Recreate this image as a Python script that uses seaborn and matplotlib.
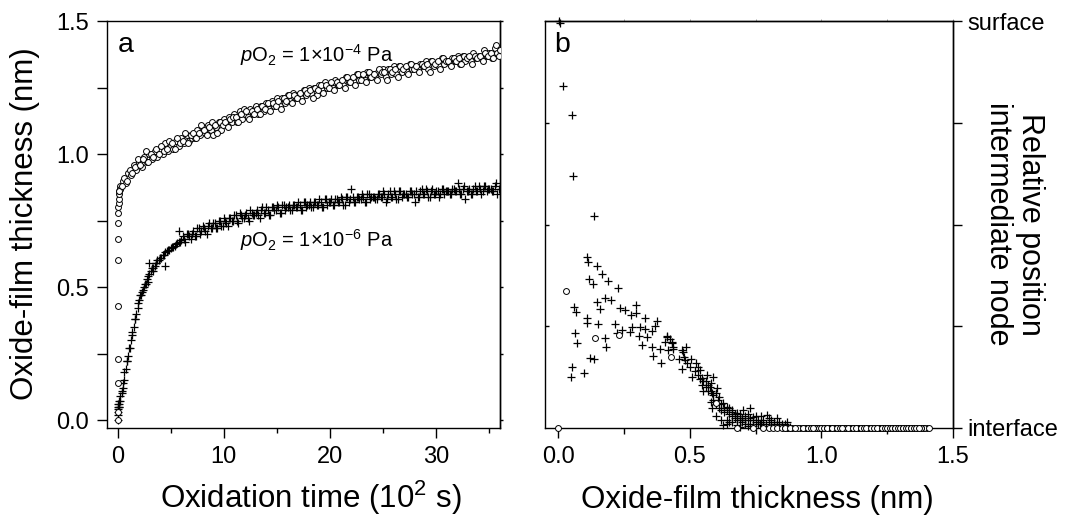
import numpy as np
import pandas as pd
import matplotlib
matplotlib.use("Agg")
import matplotlib.pyplot as plt
import seaborn as sns
from matplotlib.ticker import FixedLocator, MultipleLocator, NullFormatter

# ---------------- data ----------------
# panel a : oxidation time (1e2 s) vs oxide-film thickness (nm)
time_grid = np.arange(1, 145) * 0.25          # sampling times 0.25 ... 36
time_grid2 = time_grid - 0.125                 # interleaved samples 0.125 ... 35.875

circle_t_early = [0.0, 0.0, 0.01, 0.02, 0.03, 0.04, 0.05, 0.06, 0.07, 0.08,
                  0.09, 0.10, 0.12, 0.15, 0.18, 0.20]
circle_y_early = [0.00, 0.03, 0.14, 0.23, 0.43, 0.60, 0.68, 0.74, 0.78, 0.80,
                  0.815, 0.83, 0.85, 0.86, 0.87, 0.88]
circle_y = [
    0.87, 0.90, 0.89, 0.93, 0.92, 0.96, 0.94, 0.97, 0.95, 0.99, 0.97, 1.00,
    0.98, 1.01, 0.99, 1.02, 1.00, 1.04, 1.01, 1.03, 1.02, 1.05, 1.03, 1.06,
    1.04, 1.07, 1.05, 1.06, 1.06, 1.09, 1.07, 1.10, 1.08, 1.11, 1.09, 1.07,
    1.10, 1.12, 1.09, 1.13, 1.11, 1.14, 1.12, 1.15, 1.12, 1.16, 1.13, 1.15,
    1.14, 1.17, 1.15, 1.18, 1.15, 1.18, 1.16, 1.19, 1.17, 1.20, 1.18, 1.21,
    1.18, 1.21, 1.19, 1.22, 1.20, 1.23, 1.21, 1.22, 1.21, 1.24, 1.22, 1.25,
    1.23, 1.25, 1.22, 1.26, 1.24, 1.27, 1.25, 1.26, 1.25, 1.28, 1.26, 1.27,
    1.26, 1.29, 1.27, 1.28, 1.27, 1.30, 1.28, 1.29, 1.28, 1.31, 1.29, 1.30,
    1.29, 1.31, 1.30, 1.32, 1.29, 1.32, 1.30, 1.33, 1.30, 1.33, 1.31, 1.32,
    1.31, 1.34, 1.32, 1.33, 1.32, 1.34, 1.33, 1.35, 1.32, 1.35, 1.33, 1.34,
    1.33, 1.36, 1.34, 1.35, 1.34, 1.36, 1.35, 1.37, 1.34, 1.37, 1.35, 1.36,
    1.35, 1.38, 1.36, 1.37, 1.36, 1.39, 1.37, 1.38, 1.36, 1.40, 1.38, 1.39]
circle_y2 = [
    0.86, 0.88, 0.91, 0.90, 0.94, 0.93, 0.95, 0.98, 0.96, 0.98, 1.01, 0.97,
    1.00, 0.99, 1.02, 1.00, 1.03, 1.01, 1.02, 1.05, 1.04, 1.02, 1.06, 1.04,
    1.05, 1.08, 1.04, 1.07, 1.08, 1.06, 1.08, 1.11, 1.09, 1.07, 1.10, 1.12,
    1.11, 1.08, 1.12, 1.11, 1.12, 1.10, 1.13, 1.14, 1.14, 1.12, 1.15, 1.17,
    1.16, 1.13, 1.16, 1.15, 1.17, 1.15, 1.18, 1.17, 1.19, 1.16, 1.19, 1.18,
    1.20, 1.17, 1.21, 1.20, 1.22, 1.19, 1.22, 1.21, 1.23, 1.20, 1.24, 1.23,
    1.24, 1.21, 1.25, 1.24, 1.26, 1.23, 1.26, 1.25, 1.27, 1.24, 1.27, 1.26,
    1.28, 1.25, 1.29, 1.27, 1.29, 1.26, 1.30, 1.28, 1.30, 1.27, 1.31, 1.29,
    1.30, 1.28, 1.32, 1.31, 1.31, 1.28, 1.32, 1.31, 1.32, 1.29, 1.33, 1.32,
    1.33, 1.30, 1.34, 1.32, 1.33, 1.31, 1.34, 1.33, 1.34, 1.31, 1.35, 1.34,
    1.35, 1.32, 1.36, 1.35, 1.35, 1.33, 1.36, 1.35, 1.36, 1.34, 1.37, 1.36,
    1.37, 1.34, 1.37, 1.36, 1.37, 1.35, 1.38, 1.37, 1.38, 1.36, 1.41, 1.37]

plus_t_early = [0.0, 0.0, 0.02, 0.04, 0.06, 0.08, 0.10, 0.12, 0.15, 0.20,
                0.40, 0.55, 0.60, 0.90, 1.10, 1.40, 1.60, 1.90, 2.60, 3.00,
                3.60, 4.50, 5.80, 2.20, 2.90, 3.30]
plus_y_early = [0.00, 0.02, 0.04, 0.03, 0.05, 0.06, 0.05, 0.07, 0.06, 0.09,
                0.11, 0.14, 0.18, 0.22, 0.27, 0.33, 0.38, 0.44, 0.51, 0.59,
                0.59, 0.58, 0.71, 0.47, 0.52, 0.56]
plus_y = [
    0.07, 0.12, 0.19, 0.24, 0.30, 0.35, 0.40, 0.45, 0.48, 0.50, 0.53, 0.55,
    0.57, 0.58, 0.60, 0.61, 0.62, 0.63, 0.64, 0.645, 0.65, 0.66, 0.67, 0.675,
    0.68, 0.70, 0.69, 0.70, 0.69, 0.72, 0.70, 0.73, 0.71, 0.73, 0.72, 0.74,
    0.72, 0.75, 0.73, 0.76, 0.74, 0.76, 0.75, 0.77, 0.75, 0.78, 0.76, 0.77,
    0.76, 0.79, 0.77, 0.78, 0.77, 0.79, 0.78, 0.80, 0.77, 0.80, 0.79, 0.81,
    0.78, 0.81, 0.79, 0.80, 0.79, 0.81, 0.80, 0.82, 0.79, 0.82, 0.80, 0.81,
    0.80, 0.82, 0.81, 0.83, 0.80, 0.83, 0.81, 0.82, 0.81, 0.83, 0.82, 0.84,
    0.81, 0.84, 0.82, 0.87, 0.82, 0.84, 0.83, 0.85, 0.82, 0.85, 0.83, 0.84,
    0.83, 0.85, 0.84, 0.86, 0.82, 0.85, 0.84, 0.86, 0.83, 0.86, 0.84, 0.85,
    0.84, 0.86, 0.85, 0.82, 0.84, 0.86, 0.85, 0.87, 0.84, 0.86, 0.85, 0.86,
    0.84, 0.87, 0.85, 0.86, 0.85, 0.87, 0.86, 0.89, 0.85, 0.87, 0.83, 0.86,
    0.85, 0.87, 0.86, 0.88, 0.85, 0.88, 0.86, 0.87, 0.86, 0.88, 0.85, 0.87]
plus_y2 = [
    0.05, 0.10, 0.15, 0.22, 0.27, 0.32, 0.38, 0.42, 0.47, 0.49, 0.51, 0.54,
    0.56, 0.57, 0.59, 0.60, 0.61, 0.62, 0.635, 0.64, 0.65, 0.655, 0.665, 0.67,
    0.69, 0.67, 0.70, 0.68, 0.71, 0.69, 0.72, 0.71, 0.72, 0.70, 0.74, 0.72,
    0.74, 0.72, 0.75, 0.73, 0.75, 0.73, 0.76, 0.75, 0.77, 0.74, 0.77, 0.76,
    0.78, 0.75, 0.78, 0.77, 0.79, 0.76, 0.80, 0.78, 0.79, 0.77, 0.80, 0.79,
    0.80, 0.78, 0.81, 0.80, 0.81, 0.79, 0.81, 0.80, 0.81, 0.79, 0.82, 0.81,
    0.82, 0.80, 0.82, 0.81, 0.82, 0.80, 0.83, 0.82, 0.83, 0.81, 0.83, 0.82,
    0.83, 0.81, 0.84, 0.83, 0.84, 0.82, 0.84, 0.83, 0.84, 0.82, 0.85, 0.84,
    0.84, 0.83, 0.85, 0.84, 0.85, 0.83, 0.86, 0.84, 0.85, 0.83, 0.86, 0.85,
    0.85, 0.84, 0.86, 0.85, 0.86, 0.84, 0.87, 0.85, 0.86, 0.84, 0.87, 0.85,
    0.86, 0.85, 0.87, 0.86, 0.86, 0.85, 0.87, 0.86, 0.87, 0.85, 0.88, 0.86,
    0.87, 0.85, 0.88, 0.86, 0.87, 0.86, 0.88, 0.87, 0.87, 0.86, 0.89, 0.87]

# panel b : oxide-film thickness (nm) vs relative position of intermediate node
circle_pos_early = [0.0, 0.337, 0.222, 0.228, 0.174, 0.062, 0.0, 0.0, 0.0, 0.0,
                    0.0, 0.0, 0.0, 0.0, 0.0, 0.0]
circle_pos = [0.0] * (len(circle_y) + len(circle_y2))   # later points sit at the interface

node_thick_plus = [
    0.005, 0.008, 0.019, 0.053, 0.056, 0.135, 0.108, 0.114, 0.146, 0.165,
    0.118, 0.132, 0.190, 0.228, 0.061, 0.066, 0.146, 0.177, 0.200, 0.158,
    0.111, 0.108, 0.152, 0.063, 0.072, 0.181, 0.177, 0.215, 0.222, 0.235,
    0.254, 0.297, 0.297, 0.276, 0.241, 0.273, 0.281, 0.311, 0.329, 0.374,
    0.367, 0.329, 0.308, 0.336, 0.355, 0.317, 0.355, 0.386, 0.360, 0.390,
    0.412, 0.424, 0.433, 0.405, 0.437, 0.418, 0.469, 0.479, 0.120, 0.136,
    0.053, 0.048, 0.099, 0.415, 0.431, 0.437, 0.475, 0.487, 0.482, 0.506,
    0.501, 0.525, 0.539, 0.545, 0.564, 0.589, 0.545, 0.576, 0.602, 0.583,
    0.583, 0.608, 0.627, 0.640, 0.659, 0.678, 0.703, 0.729, 0.697, 0.741,
    0.792, 0.830, 0.868, 0.640, 0.627, 0.767, 0.690, 0.520, 0.530, 0.550,
    0.560, 0.570, 0.590, 0.600, 0.610, 0.620, 0.630, 0.650, 0.660, 0.670,
    0.680, 0.700, 0.710, 0.720, 0.730, 0.750, 0.760, 0.770, 0.780, 0.800,
    0.810, 0.820, 0.840, 0.850, 0.860, 0.580, 0.600, 0.640, 0.660, 0.690,
    0.710, 0.740, 0.550, 0.510, 0.490, 0.460, 0.470,
    0.530, 0.540, 0.560, 0.570, 0.580, 0.590, 0.610, 0.620, 0.630, 0.640,
    0.650, 0.660, 0.670, 0.680, 0.690, 0.700, 0.710, 0.720, 0.730, 0.740,
    0.750, 0.760, 0.770, 0.780, 0.790, 0.800, 0.810, 0.820, 0.830, 0.840,
    0.850, 0.860, 0.870, 0.880, 0.620, 0.650, 0.680, 0.720, 0.580, 0.600]
node_pos_plus = [
    1.000, 0.995, 0.840, 0.770, 0.620, 0.520, 0.420, 0.409, 0.399, 0.378,
    0.366, 0.355, 0.360, 0.343, 0.298, 0.284, 0.310, 0.319, 0.315, 0.292,
    0.270, 0.259, 0.256, 0.234, 0.208, 0.200, 0.220, 0.256, 0.233, 0.294,
    0.290, 0.302, 0.282, 0.278, 0.241, 0.237, 0.247, 0.247, 0.270, 0.264,
    0.251, 0.243, 0.226, 0.223, 0.239, 0.204, 0.200, 0.193, 0.177, 0.160,
    0.223, 0.218, 0.208, 0.212, 0.193, 0.192, 0.192, 0.175, 0.171, 0.169,
    0.149, 0.126, 0.136, 0.226, 0.212, 0.200, 0.187, 0.200, 0.167, 0.170,
    0.151, 0.159, 0.143, 0.122, 0.130, 0.125, 0.106, 0.101, 0.098, 0.085,
    0.048, 0.069, 0.061, 0.052, 0.044, 0.036, 0.044, 0.048, 0.024, 0.028,
    0.032, 0.024, 0.015, 0.020, 0.007, 0.011, 0.003, 0.140, 0.130, 0.115,
    0.100, 0.090, 0.080, 0.060, 0.050, 0.045, 0.040, 0.035, 0.030, 0.025,
    0.020, 0.015, 0.030, 0.020, 0.010, 0.015, 0.020, 0.030, 0.010, 0.015,
    0.005, 0.010, 0.005, 0.010, 0.003, 0.065, 0.030, 0.010, 0.015, 0.035,
    0.010, 0.005, 0.090, 0.125, 0.160, 0.170, 0.145,
    0.150, 0.120, 0.115, 0.105, 0.090, 0.070, 0.075, 0.060, 0.050, 0.045,
    0.050, 0.040, 0.035, 0.030, 0.020, 0.025, 0.020, 0.035, 0.025, 0.020,
    0.030, 0.010, 0.015, 0.020, 0.010, 0.025, 0.020, 0.015, 0.010, 0.015,
    0.005, 0.010, 0.005, 0.003, 0.020, 0.015, 0.008, 0.005, 0.110, 0.085]

time_ticks = [0, 10, 20, 30]
time_minor = [5, 15, 25, 35]
thick_ticks = [0.0, 0.5, 1.0, 1.5]
node_labels = ["interface", "surface"]

# ---------------- style ----------------
sns.set_style("ticks")
plt.rcParams["font.family"] = ["Liberation Sans", "DejaVu Sans"]
plt.rcParams["mathtext.fontset"] = "custom"
plt.rcParams["mathtext.rm"] = "Liberation Sans"
plt.rcParams["mathtext.it"] = "Liberation Sans:italic"
plt.rcParams["mathtext.bf"] = "Liberation Sans:bold"
plt.rcParams["axes.linewidth"] = 1.0
plt.rcParams["axes.edgecolor"] = "black"
for key in ["text.color", "axes.labelcolor", "xtick.color", "ytick.color",
            "xtick.labelcolor", "ytick.labelcolor"]:
    plt.rcParams[key] = "black"

W, H = 1074, 517
fig = plt.figure(figsize=(W / 100, H / 100), dpi=100)
ax1 = fig.add_axes([107 / W, 1 - 428 / H, 393 / W, 407 / H])
ax2 = fig.add_axes([545 / W, 1 - 428 / H, 408 / W, 407 / H])

df_c = pd.DataFrame({"t": list(circle_t_early) + list(time_grid) + list(time_grid2),
                     "d": circle_y_early + circle_y + circle_y2})
df_p = pd.DataFrame({"t": list(plus_t_early) + list(time_grid) + list(time_grid2),
                     "d": plus_y_early + plus_y + plus_y2})

# ---------------- panel a ----------------
sns.scatterplot(data=df_p, x="t", y="d", marker="+", s=36, color="black",
                linewidth=0.9, ax=ax1, legend=False, zorder=3)
sns.scatterplot(data=df_c, x="t", y="d", marker="o", s=18, color="white",
                edgecolor="black", linewidth=0.7, ax=ax1, legend=False, zorder=4)

ax1.set_xlim(-1, 36)
ax1.set_ylim(-0.03, 1.5)
ax1.xaxis.set_major_locator(FixedLocator(time_ticks))
ax1.xaxis.set_minor_locator(FixedLocator(time_minor))
ax1.yaxis.set_major_locator(MultipleLocator(0.5))
ax1.yaxis.set_minor_locator(MultipleLocator(0.25))
ax1.tick_params(axis="x", which="major", direction="out", length=7, width=1,
                labelsize=17, pad=6, top=False)
ax1.tick_params(axis="x", which="minor", direction="out", length=3.6, width=1,
                top=False)
ax1.tick_params(axis="y", which="both", direction="out", length=7, width=1,
                labelsize=17, pad=6, right=False)
ax1.set_xlabel("")
ax1.set_ylabel("")
r1 = ax1.secondary_yaxis("right")
r1.yaxis.set_major_locator(MultipleLocator(0.25))
r1.yaxis.set_major_formatter(NullFormatter())
r1.tick_params(direction="out", length=2, width=1)

ax1.text(0.028, 0.924, "a", transform=ax1.transAxes, fontsize=20.5,
         va="baseline", ha="left")
ax1.text(11.5, 1.347, r"$p$O$_2$ = 1×10$^{-4}$ Pa", fontsize=14.5,
         va="baseline", ha="left")
ax1.text(11.5, 0.652, r"$p$O$_2$ = 1×10$^{-6}$ Pa", fontsize=14.5,
         va="baseline", ha="left")

# ---------------- panel b ----------------
df_bp = pd.DataFrame({"d": node_thick_plus, "r": node_pos_plus})
df_bc = pd.DataFrame({"d": circle_y_early + circle_y + circle_y2,
                      "r": circle_pos_early + circle_pos})
sns.scatterplot(data=df_bp, x="d", y="r", marker="+", s=36, color="black",
                linewidth=0.9, ax=ax2, legend=False, zorder=3, clip_on=False)
sns.scatterplot(data=df_bc, x="d", y="r", marker="o", s=18, color="white",
                edgecolor="black", linewidth=0.7, ax=ax2, legend=False,
                zorder=4, clip_on=False)

ax2.set_xlim(-0.05, 1.5)
ax2.set_ylim(0, 1)
ax2.xaxis.set_major_locator(FixedLocator(thick_ticks))
ax2.xaxis.set_minor_locator(MultipleLocator(0.25))
ax2.tick_params(axis="x", which="major", direction="out", length=7, width=1,
                labelsize=17, pad=6, top=False)
ax2.tick_params(axis="x", which="minor", direction="out", length=4, width=1,
                top=False)
ax2.set_yticks([0.25, 0.5, 0.75])
ax2.yaxis.set_major_formatter(NullFormatter())
ax2.tick_params(axis="y", which="both", direction="in", length=3, width=1,
                right=False)
ax2.set_xlabel("")
ax2.set_ylabel("")

r2 = ax2.secondary_yaxis("right")
r2.set_yticks([0, 1])
r2.set_yticklabels(node_labels)
r2.yaxis.set_minor_locator(FixedLocator([0.25, 0.5, 0.75]))
r2.tick_params(which="both", direction="out", length=6.5, width=1,
               labelsize=17, pad=4)
t2 = ax2.secondary_xaxis("top")
t2.xaxis.set_major_locator(MultipleLocator(0.25))
t2.xaxis.set_major_formatter(NullFormatter())
t2.tick_params(direction="out", length=1.5, width=0.6, colors="#999999")
t2.spines["top"].set_color("black")

ax2.text(0.022, 0.924, "b", transform=ax2.transAxes, fontsize=20.5,
         va="baseline", ha="left")

# ---------------- axis titles ----------------
fig.text(25 / W, 1 - 224 / H, "Oxide-film thickness (nm)", rotation=90,
         ha="center", va="center", fontsize=22.5)
fig.text(311 / W, 1 - 508 / H, r"Oxidation time (10$^2$ s)",
         ha="center", va="baseline", fontsize=22.5)
fig.text(757 / W, 1 - 508 / H, "Oxide-film thickness (nm)",
         ha="center", va="baseline", fontsize=22.5)
fig.text(1014 / W, 1 - 224 / H, "Relative position\nintermediate node",
         rotation=270, ha="center", va="center", fontsize=22,
         multialignment="center", linespacing=1.05)

fig.savefig("out.png", dpi=100)
